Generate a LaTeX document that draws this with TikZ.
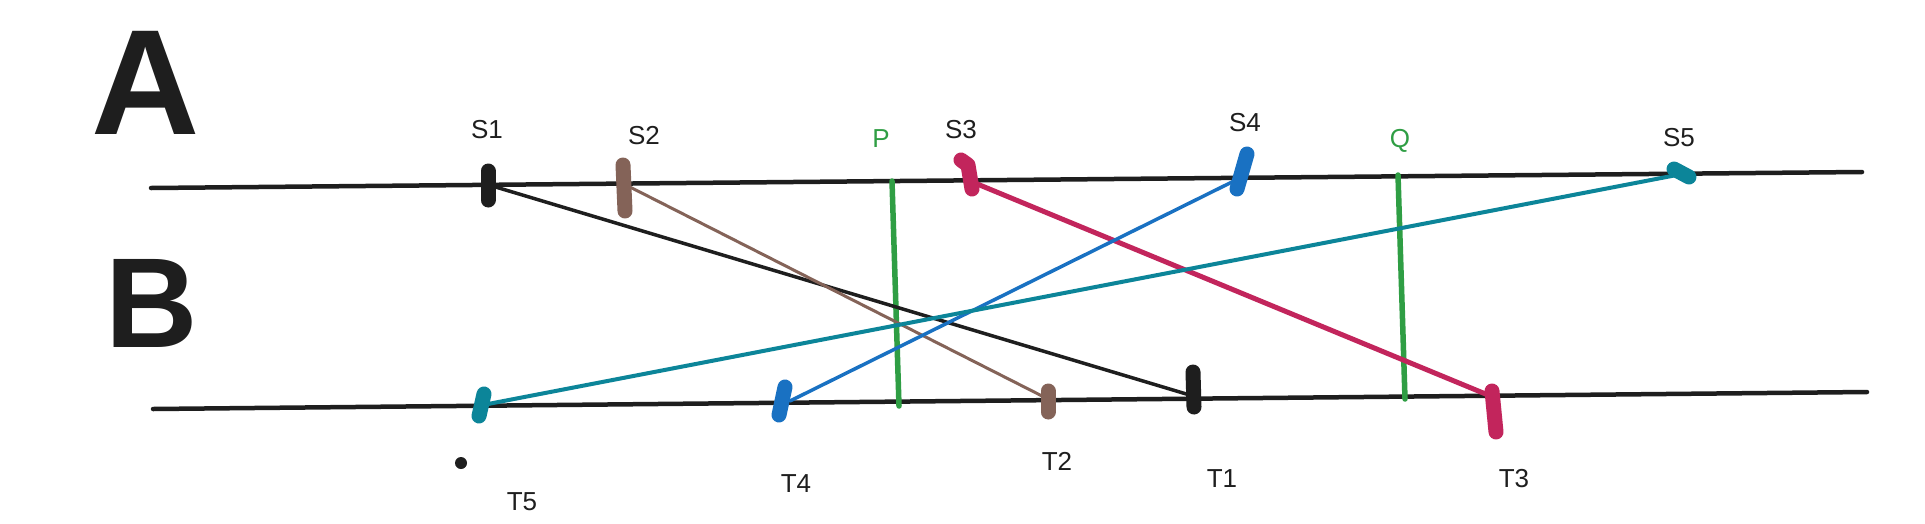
\documentclass[tikz,border=0pt]{standalone}
\usepackage{fontspec}
\setmainfont{Liberation Sans}
\definecolor{ink}{HTML}{1E1E1E}
\definecolor{pbrown}{HTML}{846358}
\definecolor{pred}{HTML}{C2255C}
\definecolor{pblue}{HTML}{1971C2}
\definecolor{pteal}{HTML}{0C8599}
\definecolor{pgreen}{HTML}{2F9E44}
\begin{document}
\begin{tikzpicture}[x=1pt,y=-1pt,
  axis/.style={line width=4.5pt,draw=ink,line cap=round},
  tick/.style={line width=15pt,line cap=round,line join=round},
  link/.style={line width=3.5pt,line cap=round},
  cut/.style={line width=5.5pt,draw=pgreen,line cap=round},
  lbl/.style={font=\fontsize{26}{26}\selectfont,text=ink,inner sep=0pt},
  big/.style={font=\fontsize{150}{150}\selectfont\bfseries,text=ink,inner sep=0pt}]
\useasboundingbox[fill=white] (0,0) rectangle (1925,523);
\node[big] (la) at (146,83) {A};
\node[big,font=\fontsize{128}{128}\selectfont\bfseries] (lb) at (152,303) {B};
\coordinate (A0) at (151,188);
\coordinate (A1) at (1862,172);
\coordinate (B0) at (153,409);
\coordinate (B1) at (1867,392);
\draw[axis] (A0) -- (A1);
\draw[axis] (B0) -- (B1);
\coordinate (s1) at (489,185);
\coordinate (s2) at (624,184);
\coordinate (s3) at (970,181);
\coordinate (s4) at (1238,179);
\coordinate (s5) at (1682,174);
\coordinate (t1) at (1193,396);
\coordinate (t2) at (1046,398);
\coordinate (t3) at (1488,395);
\coordinate (t4) at (790,401);
\coordinate (t5) at (488,404);
\coordinate (p0) at (892,181);
\coordinate (p1) at (899,406);
\coordinate (q0) at (1398,175);
\coordinate (q1) at (1405,399);
\draw[cut] (p0) -- (p1);
\draw[cut] (q0) -- (q1);
\draw[link,ink] (s1) -- (t1);
\draw[link,pbrown,line width=3pt] (s2) -- (t2);
\draw[link,pred,line width=5pt] (s3) -- (t3);
\draw[link,pblue] (s4) -- (t4);
\draw[link,pteal,line width=4pt] (s5) -- (t5);
\draw[tick,ink] (488,171) -- (488,200);
\draw[tick,pbrown] (623,165) -- (625,211);
\draw[tick,pred] (961,160) -- (968,165) -- (972,189);
\draw[tick,pblue] (1247,154) -- (1237,189);
\draw[tick,pteal] (1674,169) -- (1689,177);
\draw[tick,pteal] (484,394) -- (479,416);
\draw[tick,pblue] (785,387) -- (779,415);
\draw[tick,pbrown] (1048,391) -- (1048,412);
\draw[tick,ink] (1193,372) -- (1194,407);
\draw[tick,pred] (1492,391) -- (1496,432);
\fill[ink] (461,463) circle (6);
\node[lbl] (ls1) at (487,130) {S1};
\node[lbl] (ls2) at (644,136) {S2};
\node[lbl,text=pgreen] (lp) at (881,139) {P};
\node[lbl] (ls3) at (961,130) {S3};
\node[lbl] (ls4) at (1245,123) {S4};
\node[lbl,text=pgreen] (lq) at (1400,141) {Q};
\node[lbl] (ls5) at (1679,138) {S5};
\node[lbl] (lt5) at (522,502) {T5};
\node[lbl] (lt4) at (796,484) {T4};
\node[lbl] (lt2) at (1057,461) {T2};
\node[lbl] (lt1) at (1222,479) {T1};
\node[lbl] (lt3) at (1514,479) {T3};
\end{tikzpicture}
\end{document}
